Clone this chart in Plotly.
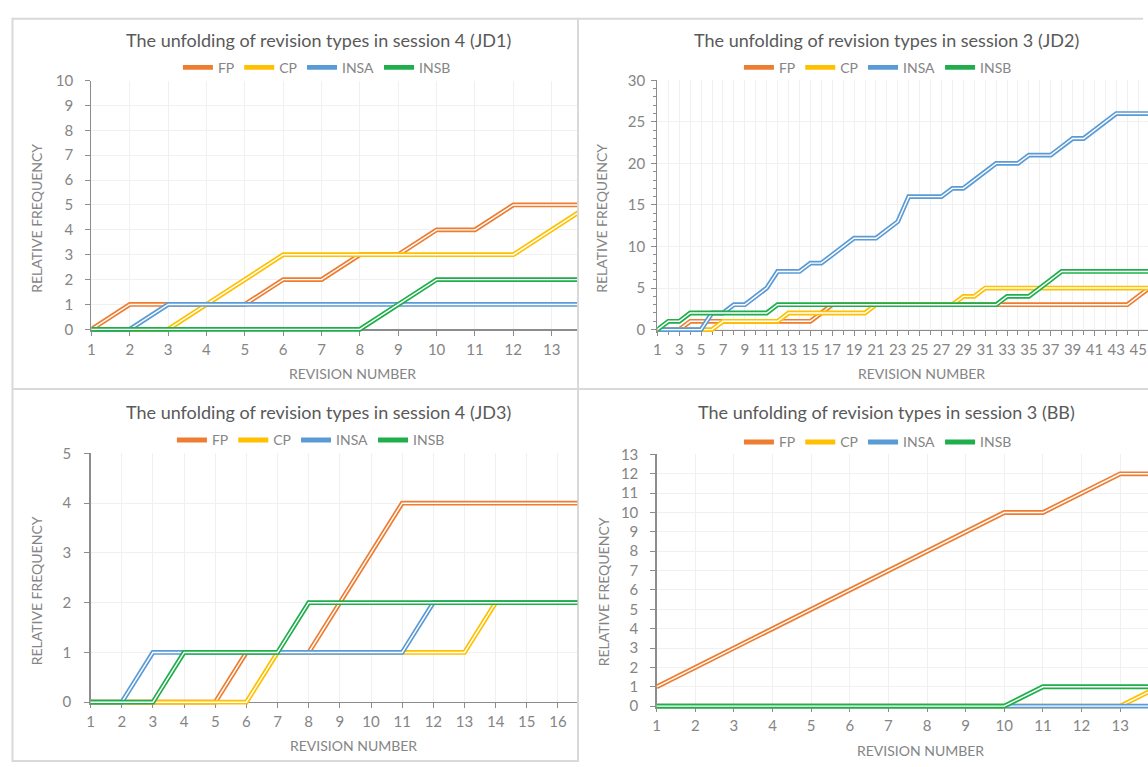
import plotly.graph_objects as go

W, H = 1148, 767

# ---------------- data ----------------
series_names = ["FP", "CP", "INSA", "INSB"]
series_colors = ["#ED7D31", "#FFC000", "#5B9BD5", "#1FAE4B"]

titles = [
    "The unfolding of revision types in session 4 (JD1)",
    "The unfolding of revision types in session 3 (JD2)",
    "The unfolding of revision types in session 4 (JD3)",
    "The unfolding of revision types in session 3 (BB)",
]

jd1_rev = list(range(1, 15))
jd1_fp = [0, 1, 1, 1, 1, 2, 2, 3, 3, 4, 4, 5, 5, 5]
jd1_cp = [0, 0, 0, 1, 2, 3, 3, 3, 3, 3, 3, 3, 4, 5]
jd1_insa = [0, 0, 1, 1, 1, 1, 1, 1, 1, 1, 1, 1, 1, 1]
jd1_insb = [0, 0, 0, 0, 0, 0, 0, 0, 1, 2, 2, 2, 2, 2]

jd2_rev = list(range(1, 47))
jd2_fp = [0, 0, 0, 1, 1, 1, 1, 1, 1, 1,
          1, 1, 1, 1, 1, 2, 3, 3, 3, 3,
          3, 3, 3, 3, 3, 3, 3, 3, 3, 3,
          3, 3, 3, 3, 3, 3, 3, 3, 3, 3,
          3, 3, 3, 3, 4, 5]
jd2_cp = [0, 0, 0, 0, 0, 0, 1, 1, 1, 1,
          1, 1, 2, 2, 2, 2, 2, 2, 2, 2,
          3, 3, 3, 3, 3, 3, 3, 3, 4, 4,
          5, 5, 5, 5, 5, 5, 5, 5, 5, 5,
          5, 5, 5, 5, 5, 5]
jd2_insa = [0, 0, 0, 0, 0, 2, 2, 3, 3, 4,
            5, 7, 7, 7, 8, 8, 9, 10, 11, 11,
            11, 12, 13, 16, 16, 16, 16, 17, 17, 18,
            19, 20, 20, 20, 21, 21, 21, 22, 23, 23,
            24, 25, 26, 26, 26, 26]
jd2_insb = [0, 1, 1, 2, 2, 2, 2, 2, 2, 2,
            2, 3, 3, 3, 3, 3, 3, 3, 3, 3,
            3, 3, 3, 3, 3, 3, 3, 3, 3, 3,
            3, 3, 4, 4, 4, 5, 6, 7, 7, 7,
            7, 7, 7, 7, 7, 7]

jd3_rev = list(range(1, 18))
jd3_fp = [0, 0, 0, 0, 0, 1, 1, 1, 2, 3, 4, 4, 4, 4, 4, 4, 4]
jd3_cp = [0, 0, 0, 0, 0, 0, 1, 1, 1, 1, 1, 1, 1, 2, 2, 2, 2]
jd3_insa = [0, 0, 1, 1, 1, 1, 1, 1, 1, 1, 1, 2, 2, 2, 2, 2, 2]
jd3_insb = [0, 0, 0, 1, 1, 1, 1, 2, 2, 2, 2, 2, 2, 2, 2, 2, 2]

bb_rev = list(range(1, 15))
bb_fp = [1, 2, 3, 4, 5, 6, 7, 8, 9, 10, 10, 11, 12, 12]
bb_cp = [0, 0, 0, 0, 0, 0, 0, 0, 0, 0, 0, 0, 0, 1]
bb_insa = [0, 0, 0, 0, 0, 0, 0, 0, 0, 0, 0, 0, 0, 0]
bb_insb = [0, 0, 0, 0, 0, 0, 0, 0, 0, 0, 1, 1, 1, 1]

panels_x = [jd1_rev, jd2_rev, jd3_rev, bb_rev]
panels_y = [
    [jd1_fp, jd1_cp, jd1_insa, jd1_insb],
    [jd2_fp, jd2_cp, jd2_insa, jd2_insb],
    [jd3_fp, jd3_cp, jd3_insa, jd3_insb],
    [bb_fp, bb_cp, bb_insa, bb_insb],
]
y_max = [10, 30, 5, 13]
x_max = [13.66, 45.9, 16.62, 13.72]

# ---------------- geometry (pixels) ----------------
# left px (x=1), right px, y px of 0, y px of max
geo = [
    (87.7, 575.0, 325.7, 72.0),
    (655.7, 1148.0, 326.0, 71.7),
    (86.9, 575.3, 706.0, 452.3),
    (654.9, 1148.0, 710.0, 453.3),
]
y_standoff = [9, 3, 10, 9]
title_pos = [(316, 30.5), (886, 30.5), (316, 410), (886, 410)]
legend_pos = [(314, 59), (877, 59), (308, 439), (877, 441)]
ytitle_pos = [(33, 212), (600, 212), (33, 592), (601, 593)]
xtitle_pos = [(350, 370.5), (921, 370.5), (351, 750.5), (920, 755.5)]

FONT = "Lato"
TXT = "#595959"
TICK = "#858585"
AXIS = "#8C8C8C"
GRID = "#F0F0F0"

fig = go.Figure()
layout = dict(
    width=W, height=H, margin=dict(l=0, r=0, t=0, b=0),
    paper_bgcolor="white", plot_bgcolor="white",
    font=dict(family=FONT, color=TICK),
    annotations=[], shapes=[],
)

PAD = 3.0
for i in range(4):
    k = "" if i == 0 else str(i + 1)
    xl, xr, y0, y1 = geo[i]
    ppu = (y0 - y1) / y_max[i]
    ydom = [1 - (y0 + PAD) / H, 1 - y1 / H]
    xdom = [xl / W, min(xr / W, 1.0)]
    legname = "legend" + k
    for j in range(4):
        common = dict(x=panels_x[i], y=panels_y[i][j], mode="lines",
                      xaxis="x" + k, yaxis="y" + k, hoverinfo="skip")
        fig.add_trace(go.Scatter(**common, name=series_names[j],
                                 line=dict(color=series_colors[j], width=4.8),
                                 legend=legname, showlegend=True))
        fig.add_trace(go.Scatter(**common, name=series_names[j] + " inner",
                                 line=dict(color="white", width=1.4),
                                 showlegend=False))
    xa = dict(domain=xdom, range=[1, x_max[i]], anchor="free",
              position=1 - y0 / H, showline=True, linecolor=AXIS, linewidth=1.3,
              ticks="outside", ticklen=5, tickcolor=AXIS, tickwidth=1,
              showgrid=True, gridcolor=GRID, gridwidth=1, zeroline=False,
              tickfont=dict(size=15, color=TICK, family=FONT),
              ticklabelstandoff=1, layer="below traces", fixedrange=True)
    ya = dict(domain=ydom, range=[-PAD / ppu, y_max[i]], anchor="x" + k,
              showline=True, linecolor=AXIS, linewidth=1.3,
              ticks="outside", ticklen=5, tickcolor=AXIS, tickwidth=1,
              showgrid=True, gridcolor=GRID, gridwidth=1, zeroline=False,
              tickfont=dict(size=15, color=TICK, family=FONT),
              ticklabelstandoff=y_standoff[i], layer="below traces",
              fixedrange=True)
    if i == 1:
        xa.update(tick0=1, dtick=2,
                  minor=dict(dtick=1, tick0=1, ticks="outside", ticklen=4,
                             tickcolor=AXIS, showgrid=True, gridcolor=GRID))
        ya.update(tick0=0, dtick=5,
                  minor=dict(dtick=1, ticks="outside", ticklen=3,
                             tickcolor=AXIS, showgrid=False))
    else:
        xa.update(tick0=1, dtick=1)
        ya.update(tick0=0, dtick=1)
    layout["xaxis" + k] = xa
    layout["yaxis" + k] = ya

    lx, ly = legend_pos[i]
    layout[legname] = dict(orientation="h", x=lx / W, y=1 - ly / H,
                           xanchor="center", yanchor="middle",
                           font=dict(size=14, color=TICK, family=FONT),
                           bgcolor="rgba(0,0,0,0)", itemclick=False,
                           itemdoubleclick=False, tracegroupgap=0)

    tx, ty = title_pos[i]
    layout["annotations"].append(dict(
        text=titles[i], x=tx / W, y=1 - ty / H, xref="paper", yref="paper",
        xanchor="center", yanchor="middle", showarrow=False,
        font=dict(size=18, color=TXT, family=FONT)))
    ax, ay = ytitle_pos[i]
    layout["annotations"].append(dict(
        text="RELATIVE FREQUENCY", x=ax / W, y=1 - ay / H, xref="paper",
        yref="paper", xanchor="center", yanchor="middle", textangle=-90,
        showarrow=False, font=dict(size=14, color=TICK, family=FONT)))
    bx, by = xtitle_pos[i]
    layout["annotations"].append(dict(
        text="REVISION NUMBER", x=bx / W, y=1 - by / H, xref="paper",
        yref="paper", xanchor="center", yanchor="middle", showarrow=False,
        font=dict(size=14, color=TICK, family=FONT)))

# chart borders
BORDER = "#D9D9D9"
def hline(py, x0, x1):
    return dict(type="line", xref="paper", yref="paper", x0=x0 / W, x1=x1 / W,
                y0=1 - py / H, y1=1 - py / H, line=dict(color=BORDER, width=2),
                layer="below")
def vline(px, y0, y1):
    return dict(type="line", xref="paper", yref="paper", x0=px / W, x1=px / W,
                y0=1 - y0 / H, y1=1 - y1 / H, line=dict(color=BORDER, width=2),
                layer="below")

layout["shapes"] = [
    hline(9, 8, 1143),
    vline(8.5, 8, 767),
    vline(576, 8, 767),
    hline(386.5, 8, 1148),
    hline(766, 8, 576),
]

fig.update_layout(**layout)
fig.write_html(
    "out.html",
    config={"displayModeBar": False, "staticPlot": True},
    post_script=("document.documentElement.style.margin='0';"
                 "document.body.style.margin='0';"
                 "document.body.style.padding='0';"
                 "document.body.style.overflow='hidden';"),
)
